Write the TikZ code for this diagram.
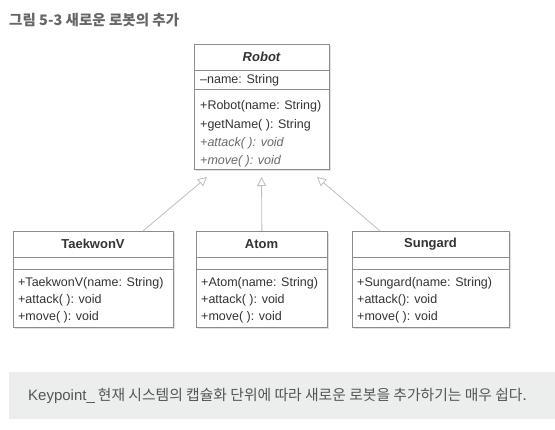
\documentclass[tikz,border=0pt]{standalone}
\usepackage{fontspec}
\setmainfont{Liberation Sans}
\newfontfamily\kr{Noto Sans CJK KR}
\usetikzlibrary{arrows.meta,shadows,calc}
\definecolor{boxline}{HTML}{8C8C8C}
\definecolor{conn}{HTML}{BDBDBD}
\definecolor{txt}{HTML}{333333}
\definecolor{itxt}{HTML}{6A6A6A}
\definecolor{ttl}{HTML}{555555}
\definecolor{kpfill}{HTML}{ECEDED}
\begin{document}
\begin{tikzpicture}[x=1pt,y=-1pt,
  umlbox/.style={draw=boxline, line width=0.8pt, fill=white, anchor=north west, inner sep=0pt,
    drop shadow={shadow xshift=1.2pt, shadow yshift=-1.2pt, fill=black!12, opacity=1}},
  divider/.style={draw=boxline, line width=0.7pt},
  member/.style={anchor=west, inner sep=0pt, text=txt, font=\fontsize{12.5}{14}\selectfont},
  absmember/.style={member, text=itxt, font=\fontsize{12.5}{14}\selectfont\itshape},
  cname/.style={anchor=center, inner sep=0pt, text=txt, font=\fontsize{13}{15}\selectfont\bfseries},
  inh/.style={draw=conn, line width=0.8pt, -{Triangle[open, length=9pt, width=9pt, line width=0.8pt]}}
]
\useasboundingbox (0,0) rectangle (555,430);

% title
\node[anchor=west, inner sep=0pt, text=ttl!90, font=\kr\fontsize{14.5}{16}\selectfont\bfseries] (title) at (9,20) {그림 5-3 새로운 로봇의 추가};

% Robot
\node[umlbox, minimum width=135pt, minimum height=125pt] (robot) at (194,44) {};
\draw[divider] (194,70) -- (329,70);
\draw[divider] (194,89) -- (329,89);
\node[cname, font=\fontsize{13}{15}\selectfont\bfseries\itshape] (robotname) at (261.5,57) {Robot};
\node[absmember, text=txt, font=\fontsize{12.5}{14}\selectfont] (r1) at (200,80) {–name: String};
\node[member] (r2) at (200,106) {+Robot(name: String)};
\node[member] (r3) at (200,125) {+getName( ): String};
\node[absmember] (r4) at (200,143) {+attack( ): void};
\node[absmember] (r5) at (200,161) {+move( ): void};

% TaekwonV
\node[umlbox, minimum width=160pt, minimum height=96pt] (taekwon) at (13,231) {};
\draw[divider] (13,257) -- (173,257);
\draw[divider] (13,269) -- (173,269);
\node[cname] (tname) at (93,244) {TaekwonV};
\node[member] (t1) at (18,283) {+TaekwonV(name: String)};
\node[member] (t2) at (18,300) {+attack( ): void};
\node[member] (t3) at (18,317) {+move( ): void};

% Atom
\node[umlbox, minimum width=131pt, minimum height=96pt] (atom) at (196,231) {};
\draw[divider] (196,257) -- (327,257);
\draw[divider] (196,269) -- (327,269);
\node[cname] (aname) at (261.5,244) {Atom};
\node[member] (a1) at (201,283) {+Atom(name: String)};
\node[member] (a2) at (201,300) {+attack( ): void};
\node[member] (a3) at (201,317) {+move( ): void};

% Sungard
\node[umlbox, minimum width=157pt, minimum height=96pt] (sungard) at (352,231) {};
\draw[divider] (352,257) -- (509,257);
\draw[divider] (352,269) -- (509,269);
\node[cname] (sname) at (430.5,244) {Sungard};
\node[member] (s1) at (357,283) {+Sungard(name: String)};
\node[member] (s2) at (357,300) {+attack(): void};
\node[member] (s3) at (357,317) {+move( ): void};

% inheritance connectors
\coordinate (tipL) at (207,177);
\coordinate (tipC) at (261.5,177);
\coordinate (tipR) at (317,177);
\draw[inh] ([xshift=130pt]taekwon.north west) -- (tipL);
\draw[inh] (atom.north) -- (tipC);
\draw[inh] ([xshift=28pt]sungard.north west) -- (tipR);

% keypoint
\node[anchor=north west, fill=kpfill, minimum width=546pt, minimum height=47pt, inner sep=0pt] (kpbox) at (9,372) {};
\node[anchor=west, inner sep=0pt, text=ttl] (kptext) at (28,396)
  {{\fontsize{15}{17}\selectfont Keypoint\_}\hspace{3pt}{\kr\fontsize{14.8}{17}\selectfont 현재 시스템의 캡슐화 단위에 따라 새로운 로봇을 추가하기는 매우 쉽다.}};
\end{tikzpicture}
\end{document}
